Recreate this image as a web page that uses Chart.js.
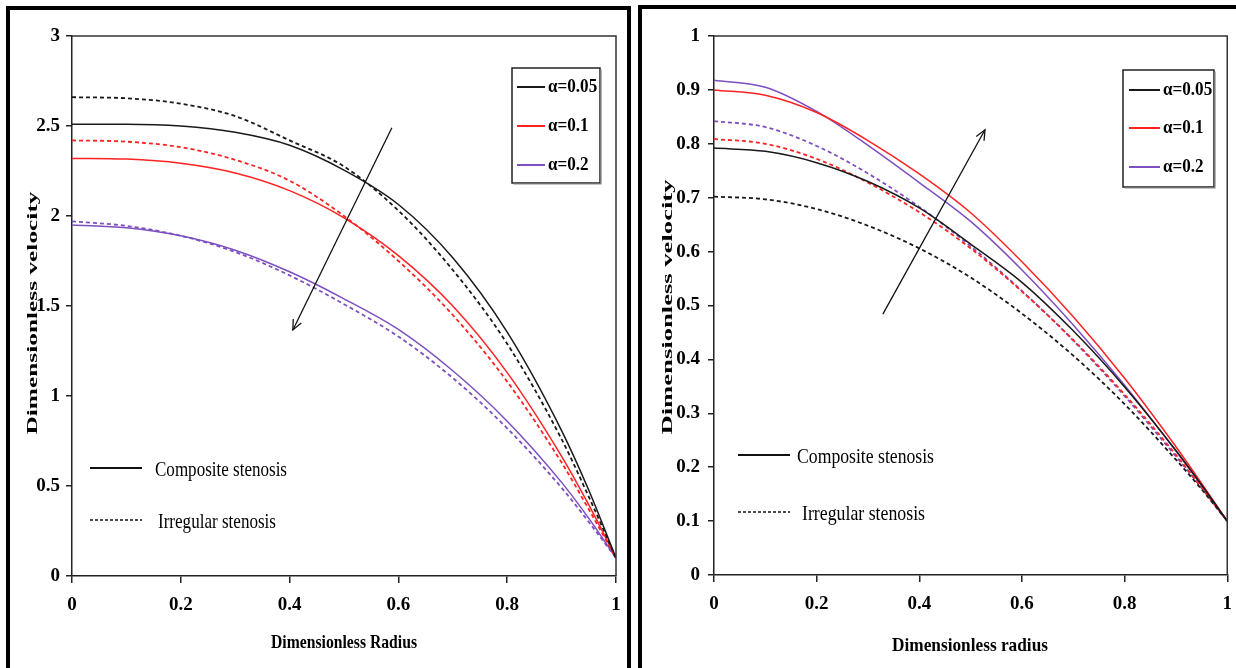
<!DOCTYPE html>
<html><head><meta charset="utf-8">
<script src="https://cdn.jsdelivr.net/npm/chart.js@4.4.1/dist/chart.umd.min.js"></script>
<style>
html,body{margin:0;padding:0;background:#fff;width:1236px;height:668px;overflow:hidden;position:relative}
.frame{position:absolute;border:4px solid #000;box-sizing:border-box;pointer-events:none}
</style></head><body>
<div style="position:absolute;left:0;top:0;width:632px;height:668px"><canvas id="c1"></canvas></div>
<div style="position:absolute;left:632px;top:0;width:611px;height:668px"><canvas id="c2"></canvas></div>
<div class="frame" style="left:6px;top:6px;width:625px;height:700px"></div>
<div class="frame" style="left:638px;top:5px;width:620px;height:700px"></div>
<script>
// ---- data ----
const radius = [0, 0.1, 0.2, 0.3, 0.4, 0.5, 0.6, 0.7, 0.8, 0.9, 0.95, 1];
const alphaLabels = ['α=0.05', 'α=0.1', 'α=0.2'];
const stenosisLabels = ['Composite stenosis', 'Irregular stenosis'];

// left panel
const leftComposite005 = [2.51, 2.51, 2.50, 2.465, 2.393, 2.255, 2.064, 1.768, 1.355, 0.808, 0.476, 0.1];
const leftIrregular005 = [2.66, 2.654, 2.624, 2.555, 2.42, 2.275, 2.03, 1.70, 1.29, 0.76, 0.44, 0.1];
const leftComposite01  = [2.32, 2.316, 2.293, 2.239, 2.141, 1.99, 1.78, 1.50, 1.13, 0.665, 0.395, 0.1];
const leftIrregular01  = [2.42, 2.413, 2.382, 2.312, 2.196, 2.00, 1.75, 1.45, 1.08, 0.63, 0.37, 0.1];
const leftComposite02  = [1.95, 1.935, 1.89, 1.81, 1.69, 1.54, 1.37, 1.14, 0.86, 0.52, 0.32, 0.1];
const leftIrregular02  = [1.97, 1.945, 1.89, 1.80, 1.67, 1.51, 1.33, 1.10, 0.82, 0.49, 0.30, 0.1];

// right panel
const rightComposite005 = [0.792, 0.786, 0.765, 0.730, 0.681, 0.614, 0.543, 0.453, 0.349, 0.231, 0.167, 0.1];
const rightIrregular005 = [0.702, 0.697, 0.679, 0.648, 0.606, 0.552, 0.485, 0.407, 0.317, 0.214, 0.159, 0.1];
const rightComposite01  = [0.900, 0.890, 0.858, 0.806, 0.744, 0.672, 0.581, 0.479, 0.365, 0.238, 0.170, 0.1];
const rightIrregular01  = [0.809, 0.800, 0.772, 0.728, 0.673, 0.606, 0.526, 0.436, 0.335, 0.223, 0.162, 0.1];
const rightComposite02  = [0.918, 0.905, 0.860, 0.797, 0.728, 0.656, 0.566, 0.464, 0.352, 0.230, 0.166, 0.1];
const rightIrregular02  = [0.842, 0.831, 0.796, 0.745, 0.683, 0.610, 0.527, 0.435, 0.332, 0.220, 0.162, 0.1];

// tick labels
const xTickLabels = ['0', '0.2', '0.4', '0.6', '0.8', '1'];
const leftYTickLabels = ['0', '0.5', '1', '1.5', '2', '2.5', '3'];
const rightYTickLabels = ['0', '0.1', '0.2', '0.3', '0.4', '0.5', '0.6', '0.7', '0.8', '0.9', '1'];

// arrows in data units [r0, v0, r1(head), v1(head)]
const leftArrow = [0.588, 2.49, 0.406, 1.367];
const rightArrow = [0.329, 0.484, 0.528, 0.826];

// ---- styling ----
const COLORS = ['#1a1a1a', '#ff2222', '#7d4fc0'];
const SERIF = '"Liberation Serif", "Times New Roman", serif';

function pts(ys) { return radius.map((x, i) => ({ x: x, y: ys[i] })); }

function ds(ys, ci, dashed) {
  return {
    data: pts(ys), borderColor: COLORS[ci], borderWidth: dashed ? 1.8 : 1.5,
    borderDash: dashed ? [4, 3] : [], pointRadius: 0, showLine: true,
    cubicInterpolationMode: 'monotone', fill: false
  };
}

function sText(ctx, txt, x, y, o) {
  ctx.save();
  ctx.font = o.font;
  const w = ctx.measureText(txt).width;
  let s = o.width ? o.width / w : (o.sx || 1);
  ctx.translate(x, y);
  if (o.rot) ctx.rotate(o.rot);
  ctx.scale(s, o.across || 1);
  ctx.fillStyle = o.color || '#000';
  ctx.textAlign = o.align || 'left';
  ctx.textBaseline = 'middle';
  ctx.fillText(txt, 0, 0);
  ctx.restore();
}

function decoPlugin(d) {
  return {
    id: 'deco',
    afterDraw(chart) {
      const ctx = chart.ctx, a = chart.chartArea;
      const xs = chart.scales.x, ys = chart.scales.y;
      ctx.save();
      // top and right frame of plot
      ctx.strokeStyle = '#333'; ctx.lineWidth = 1.5;
      ctx.beginPath();
      ctx.moveTo(a.left, a.top); ctx.lineTo(a.right, a.top); ctx.lineTo(a.right, a.bottom);
      ctx.stroke();
      // axis titles
      sText(ctx, d.xTitle, d.xTitlePos[0], d.xTitlePos[1], { font: 'bold 19px ' + SERIF, width: d.xTitleW, align: 'center' });
      sText(ctx, 'Dimensionless velocity', d.yTitlePos[0], d.yTitlePos[1], { font: 'bold 19px ' + SERIF, width: d.yTitleW, align: 'center', rot: -Math.PI / 2, across: 0.78 });
      // alpha legend
      const L = d.legend;
      ctx.strokeStyle = '#222'; ctx.lineWidth = 1.5;
      ctx.strokeRect(L.x, L.y, L.w, L.h);
      ctx.lineWidth = 1.2; ctx.strokeStyle = '#888';
      ctx.beginPath(); ctx.moveTo(L.x + 1.5, L.y + L.h + 1); ctx.lineTo(L.x + L.w + 1, L.y + L.h + 1); ctx.lineTo(L.x + L.w + 1, L.y + 1.5); ctx.stroke();
      for (let i = 0; i < 3; i++) {
        const yy = L.rows[i];
        ctx.strokeStyle = COLORS[i]; ctx.lineWidth = 2;
        ctx.beginPath(); ctx.moveTo(L.l0, yy); ctx.lineTo(L.l1, yy); ctx.stroke();
        sText(ctx, alphaLabels[i], L.tx, yy, { font: 'bold 19px ' + SERIF, sx: 0.9 });
      }
      // stenosis key
      const K = d.key;
      ctx.strokeStyle = '#111'; ctx.lineWidth = 2; ctx.setLineDash([]);
      ctx.beginPath(); ctx.moveTo(K.l0, K.y1); ctx.lineTo(K.l1, K.y1); ctx.stroke();
      ctx.lineWidth = 1.3; ctx.setLineDash([3, 2]);
      ctx.beginPath(); ctx.moveTo(K.l0, K.y2); ctx.lineTo(K.l1, K.y2); ctx.stroke();
      ctx.setLineDash([]);
      sText(ctx, stenosisLabels[0], K.t1x, K.y1 + 2, { font: '21px ' + SERIF, width: K.w1 });
      sText(ctx, stenosisLabels[1], K.t2x, K.y2 + 2, { font: '21px ' + SERIF, width: K.w2 });
      // arrow
      const ar = d.arrow;
      const x0 = xs.getPixelForValue(ar[0]), y0 = ys.getPixelForValue(ar[1]);
      const x1 = xs.getPixelForValue(ar[2]), y1 = ys.getPixelForValue(ar[3]);
      ctx.strokeStyle = '#111'; ctx.lineWidth = 1.3;
      ctx.beginPath(); ctx.moveTo(x0, y0); ctx.lineTo(x1, y1); ctx.stroke();
      const ang = Math.atan2(y1 - y0, x1 - x0), hl = 11, ha = 0.42;
      ctx.beginPath();
      ctx.moveTo(x1 - hl * Math.cos(ang - ha), y1 - hl * Math.sin(ang - ha));
      ctx.lineTo(x1, y1);
      ctx.lineTo(x1 - hl * Math.cos(ang + ha), y1 - hl * Math.sin(ang + ha));
      ctx.stroke();
      ctx.restore();
    }
  };
}

function makeChart(id, series, c, d) {
  const tickFont = { family: SERIF, weight: 'bold', size: 19 };
  return new Chart(document.getElementById(id), {
    type: 'scatter',
    data: { datasets: series },
    options: {
      responsive: true, maintainAspectRatio: false, animation: false,
      layout: { padding: { top: c.padTop, right: c.padRight, left: 0, bottom: 0 } },
      plugins: { legend: { display: false }, tooltip: { enabled: false } },
      scales: {
        x: {
          type: 'linear', min: 0, max: 1,
          afterFit(s) { s.height = c.xH; },
          border: { display: true, color: '#222', width: 1.5 },
          grid: { drawOnChartArea: false, drawTicks: true, tickLength: 7, color: '#222', lineWidth: 1.5 },
          ticks: { stepSize: 0.2, padding: 11, color: '#000', font: tickFont, maxRotation: 0,
                   callback: (v, i) => xTickLabels[i] }
        },
        y: {
          type: 'linear', min: 0, max: c.yMax,
          afterFit(s) { s.width = c.yW; },
          border: { display: true, color: '#222', width: 1.5 },
          grid: { drawOnChartArea: false, drawTicks: true, tickLength: 6, color: '#222', lineWidth: 1.5 },
          ticks: { stepSize: c.yStep, padding: c.yPad, color: '#000', font: tickFont,
                   callback: (v, i) => c.yLabels[i] }
        }
      }
    },
    plugins: [decoPlugin(d)]
  });
}

makeChart('c1', [
  ds(leftComposite005, 0, false), ds(leftIrregular005, 0, true),
  ds(leftComposite01, 1, false), ds(leftIrregular01, 1, true),
  ds(leftComposite02, 2, false), ds(leftIrregular02, 2, true)
], { padTop: 36, padRight: 16, xH: 92, yW: 72, yMax: 3, yStep: 0.5, yPad: 6, yLabels: leftYTickLabels },
{
  xTitle: 'Dimensionless Radius', xTitlePos: [344, 643], xTitleW: 146,
  yTitlePos: [33, 313], yTitleW: 243,
  legend: { x: 512, y: 68, w: 88, h: 115, rows: [87, 126, 165], l0: 517, l1: 545, tx: 548 },
  key: { l0: 90, l1: 142, y1: 468, y2: 520, t1x: 155, t2x: 158, w1: 132, w2: 118 },
  arrow: leftArrow
});

makeChart('c2', [
  ds(rightComposite005, 0, false), ds(rightIrregular005, 0, true),
  ds(rightComposite01, 1, false), ds(rightIrregular01, 1, true),
  ds(rightComposite02, 2, false), ds(rightIrregular02, 2, true)
], { padTop: 36, padRight: 2, xH: 93, yW: 82, yMax: 1, yStep: 0.1, yPad: 8, yLabels: rightYTickLabels },
{
  xTitle: 'Dimensionless radius', xTitlePos: [338, 646], xTitleW: 156,
  yTitlePos: [36, 307], yTitleW: 255,
  legend: { x: 491, y: 70, w: 91, h: 117, rows: [90, 128, 167], l0: 497, l1: 528, tx: 531 },
  key: { l0: 106, l1: 158, y1: 455, y2: 512, t1x: 165, t2x: 170, w1: 137, w2: 123 },
  arrow: rightArrow
});
</script>
</body></html>
